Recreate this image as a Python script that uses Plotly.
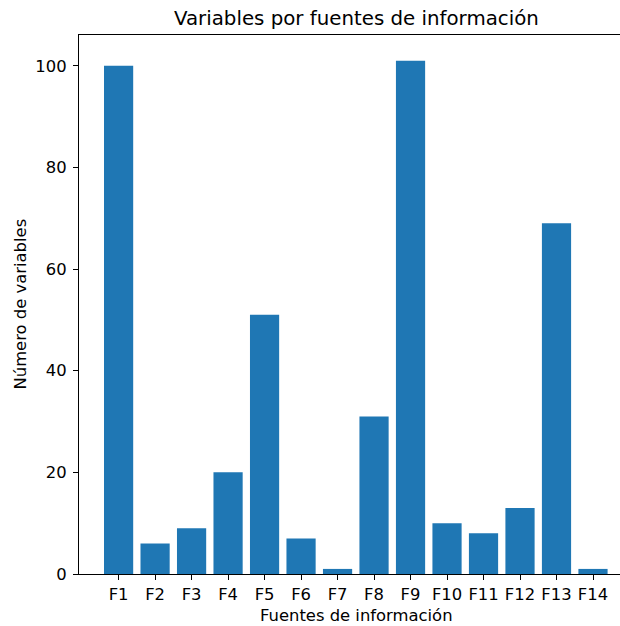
import plotly.graph_objects as go

categories = ["F1", "F2", "F3", "F4", "F5", "F6", "F7", "F8", "F9", "F10", "F11", "F12", "F13", "F14"]
values = [100, 6, 9, 20, 51, 7, 1, 31, 101, 10, 8, 13, 69, 1]
y_ticks = [0, 20, 40, 60, 80, 100]

W, H = 620, 626
L, R, T, B = 79, 0, 35, 52

fig = go.Figure(go.Bar(
    x=list(range(len(categories))), y=values, width=0.8,
    marker=dict(color="#1f77b4", line=dict(width=0)),
))

font = dict(family="DejaVu Sans", size=16.4, color="black")

fig.update_layout(
    width=W, height=H,
    margin=dict(l=L, r=R, t=T, b=B, pad=0),
    plot_bgcolor="white", paper_bgcolor="white",
    font=font, showlegend=False,
    xaxis=dict(
        range=[-1.085, 13.74], tickmode="array",
        tickvals=list(range(len(categories))), ticktext=categories,
        showgrid=False, zeroline=False,
        showline=True, linecolor="black", linewidth=1.2, mirror=True,
        ticks="outside", ticklen=5, tickwidth=1.2, tickcolor="black",
        tickfont=font,
    ),
    yaxis=dict(
        range=[0, 106.05], tickmode="array", tickvals=y_ticks,
        showgrid=False, zeroline=False,
        showline=True, linecolor="black", linewidth=1.2, mirror=False,
        ticks="outside", ticklen=5, tickwidth=1.2, tickcolor="black",
        tickfont=font, ticklabelstandoff=3,
    ),
    annotations=[
        dict(text="Variables por fuentes de información", xref="paper", yref="paper",
             x=(356 - L) / (W - L), y=1, yshift=3, xanchor="center", yanchor="bottom",
             showarrow=False, font=dict(family="DejaVu Sans", size=19.8, color="black")),
        dict(text="Fuentes de información", xref="paper", yref="paper",
             x=(356 - L) / (W - L), y=0, yshift=-30, xanchor="center", yanchor="top",
             showarrow=False, font=font),
        dict(text="Número de variables", xref="paper", yref="paper",
             x=0, xshift=-59, y=0.5, xanchor="center", yanchor="middle", textangle=-90,
             showarrow=False, font=font),
    ],
)

fig.write_html("out.html")
